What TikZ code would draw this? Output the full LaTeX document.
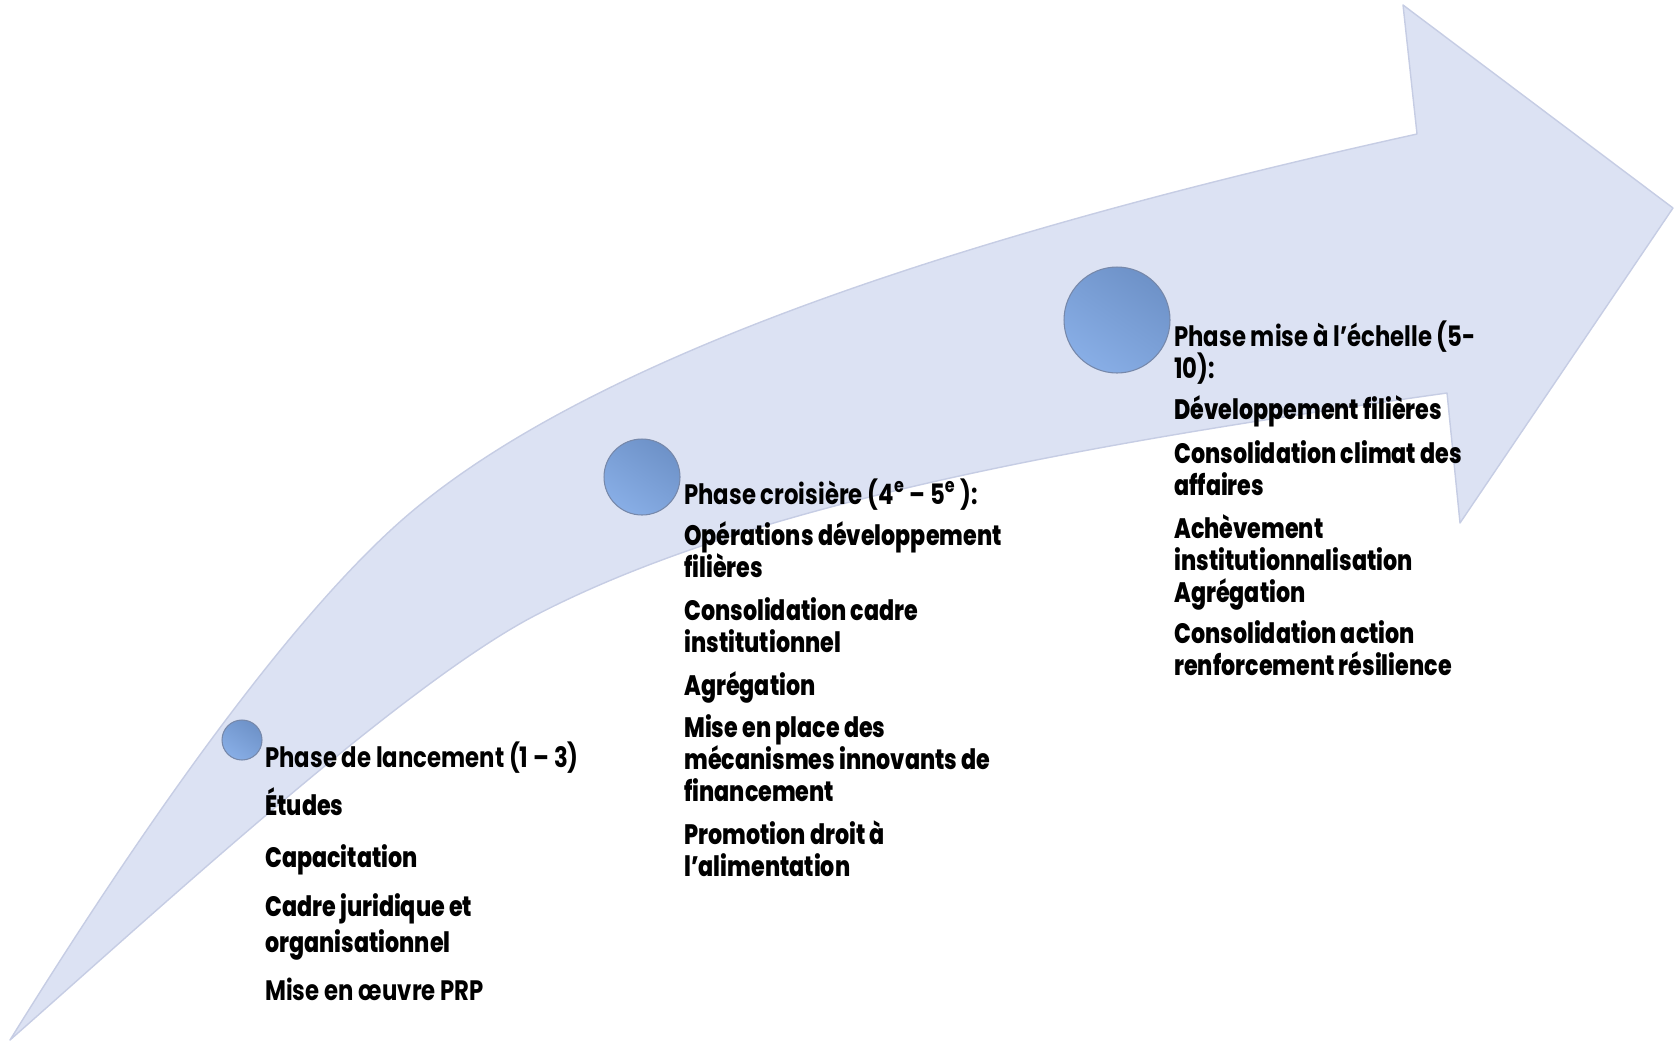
\documentclass[tikz,border=0pt]{standalone}
\usepackage{fontspec}
\usepackage{tikz}
\usetikzlibrary{calc}
\usetikzlibrary{shapes.geometric}
\newfontfamily\phasefont{Poppins}[FakeStretch=0.81]
\newfontfamily\itemfont{Poppins ExtraBold}[FakeStretch=0.79]
\definecolor{arrowfill}{RGB}{220,226,243}
\definecolor{arrowedge}{RGB}{198,205,228}
\definecolor{balltop}{RGB}{110,146,200}
\definecolor{ballbot}{RGB}{136,174,230}
\definecolor{ballrim}{RGB}{118,136,170}
\tikzset{every picture/.style={x=0.02cm,y=-0.02cm}}

\begin{document}
\begin{tikzpicture}[ball/.style={circle, inner sep=0pt, minimum size=#1, top color=balltop, bottom color=ballbot, shading angle=-35, draw=ballrim, line width=0.6pt},
 phase/.style={anchor=base west, inner sep=0pt, align=left, font=\phasefont\bfseries\fontsize{16}{18.2}\selectfont},
 item/.style={anchor=base west, inner sep=0pt, align=left, font=\itemfont\fontsize{16}{18.2}\selectfont},
 wide/.style={font=\itemfont\fontsize{16}{20.5}\selectfont}]
\useasboundingbox (0,0) rectangle (1676,1042);
\filldraw[fill=arrowfill, draw=arrowedge, line width=0.8pt, line join=round]
 (10,1040) .. controls (105,887) and (267,639) .. (402,520)
 .. controls (590,355) and (978,231) .. (1417,134)
 -- (1403,5) -- (1673,208) -- (1460,523) -- (1447,393)
 .. controls (1100,442) and (758,500) .. (536,615)
 .. controls (403,684) and (160,908) .. (10,1040) -- cycle;
\node (s1) at (242,740) [ball=0.8cm] {};
\node (s2) at (642,477) [ball=1.52cm] {};
\node (s3) at (1117,320) [ball=2.12cm] {};
% phase 1
\node (h1) at ($(s1)+(23,27)$) [phase] {Phase de lancement (1 – 3)};
\node (a1) at ($(s1)+(23,75)$) [item] {Études};
\node (a2) at ($(s1)+(23,127)$) [item] {Capacitation};
\node (a3) at ($(s1)+(23,212)$) [item, wide] {Cadre juridique et\\organisationnel};
\node (a4) at ($(s1)+(23,260)$) [phase] {Mise en œuvre PRP};
% phase 2
\node (h2) at ($(s2)+(42,27)$) [phase] {Phase croisière (4\textsuperscript{e} – 5\textsuperscript{e} ):};
\node (b1) at ($(s2)+(42,100)$) [item] {Opérations développement\\filières};
\node (b2) at ($(s2)+(42,175)$) [item] {Consolidation cadre\\institutionnel};
\node (b3) at ($(s2)+(42,218)$) [item] {Agrégation};
\node (b4) at ($(s2)+(42,324)$) [item] {Mise en place des\\mécanismes innovants de\\financement};
\node (b5) at ($(s2)+(42,399)$) [item] {Promotion droit à\\l’alimentation};
% phase 3
\node (h3) at ($(s3)+(57,58)$) [phase] {Phase mise à l’échelle (5-\\10):};
\node (c1) at ($(s3)+(57,99)$) [item] {Développement filières};
\node (c2) at ($(s3)+(57,175)$) [item] {Consolidation climat des\\affaires};
\node (c3) at ($(s3)+(57,282)$) [item] {Achèvement\\institutionnalisation\\Agrégation};
\node (c4) at ($(s3)+(57,355)$) [item] {Consolidation action\\renforcement résilience};
\end{tikzpicture}
\end{document}
